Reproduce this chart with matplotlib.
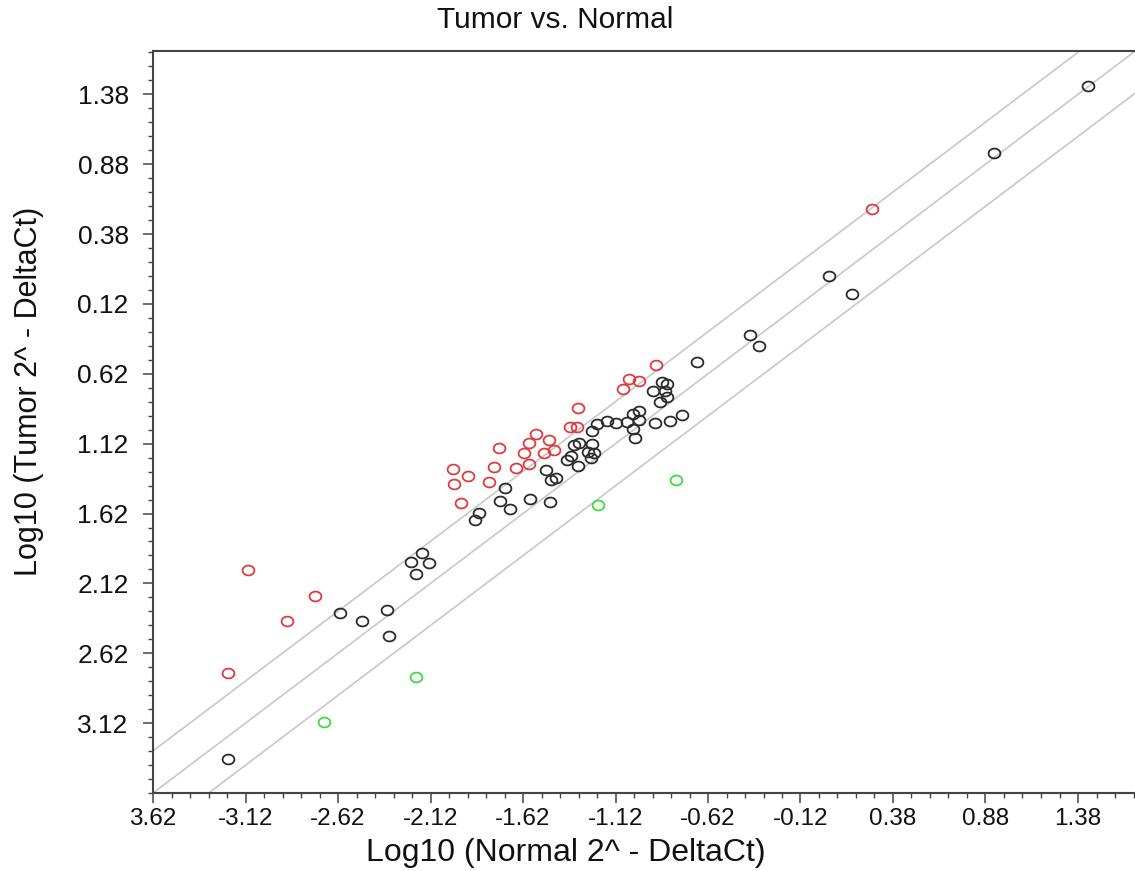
import numpy as np
import matplotlib
matplotlib.use('Agg')
import matplotlib.pyplot as plt
from matplotlib.path import Path
from matplotlib.ticker import FixedLocator

plt.rcParams['font.family'] = ['Liberation Sans', 'DejaVu Sans']

# Log10 2^-DeltaCt, normal (x) vs tumor (y)
red_x = [-3.216, -3.105, -2.897, -2.744, -1.997, -1.993, -1.919, -1.955, -1.802,
         -1.775, -1.750, -1.658, -1.616, -1.589, -1.550, -1.589, -1.479, -1.506,
         -1.455, -1.366, -1.328, -1.323, -1.078, -1.045, -0.993, -0.901, 0.268]
red_y = [-2.761, -2.027, -2.386, -2.208, -1.301, -1.408, -1.354, -1.544, -1.396,
         -1.284, -1.149, -1.294, -1.184, -1.113, -1.054, -1.268, -1.094, -1.184,
         -1.164, -1.000, -1.000, -0.863, -0.732, -0.654, -0.675, -0.558, 0.561]

green_x = [-2.696, -2.198, -1.213, -0.793]
green_y = [-3.113, -2.791, -1.558, -1.379]

black_x = [-3.215, -2.609, -2.492, -2.357, -2.343, -2.224, -2.164, -2.128, -2.198,
           -1.879, -1.859, -1.716, -1.743, -1.690, -1.582, -1.474, -1.497, -1.468,
           -1.442, -1.384, -1.363, -1.321, -1.344, -1.315, -1.247, -1.266, -1.236,
           -1.255, -1.247, -1.218, -1.168, -1.117, -1.058, -1.024, -0.991, -0.991,
           -1.027, -1.017, -0.906, -0.825, -0.763, -0.917, -0.869, -0.840, -0.852,
           -0.840, -0.877, -0.681, -0.393, -0.344, 0.036, 0.160, 0.926, 1.432]
black_y = [-3.379, -2.329, -2.386, -2.311, -2.494, -1.968, -1.904, -1.975, -2.051,
           -1.663, -1.618, -1.438, -1.527, -1.586, -1.518, -1.534, -1.311, -1.381,
           -1.369, -1.238, -1.209, -1.277, -1.127, -1.118, -1.122, -1.181, -1.188,
           -1.222, -1.027, -0.977, -0.961, -0.972, -0.963, -0.908, -0.889, -0.951,
           -1.015, -1.077, -0.974, -0.956, -0.913, -0.741, -0.681, -0.695, -0.744,
           -0.784, -0.820, -0.534, -0.344, -0.422, 0.078, -0.051, 0.959, 1.442]

# fold-change boundaries (log10 2)
line_offsets = [np.log10(2), 0.0, -np.log10(2)]

x_ticks = [-3.62, -3.12, -2.62, -2.12, -1.62, -1.12, -0.62, -0.12, 0.38, 0.88, 1.38]
x_labels = ['3.62', '-3.12', '-2.62', '-2.12', '-1.62', '-1.12', '-0.62', '-0.12',
            '0.38', '0.88', '1.38']
y_ticks = [1.38, 0.88, 0.38, -0.12, -0.62, -1.12, -1.62, -2.12, -2.62, -3.12]
y_labels = ['1.38', '0.88', '0.38', '0.12', '0.62', '1.12', '1.62', '2.12', '2.62', '3.12']

lo, hi = -3.62, 1.69

# slightly wide open ellipse as the marker
t = np.linspace(0, 2 * np.pi, 60)
ellipse = Path(np.column_stack([1.2 * np.cos(t), np.sin(t)]))

W, H = 1135, 871
fig = plt.figure(figsize=(W / 100, H / 100), dpi=100)
ax = fig.add_axes([153 / W, (H - 793) / H, 990 / W, 742 / H])

xx = np.array([lo - 1, hi + 1])
for off in line_offsets:
    ax.plot(xx, xx + off, color='#c8c8c8', lw=1.2, zorder=1)

ms = 8.5
ax.plot(black_x, black_y, ls='none', marker=ellipse, ms=ms, mfc='none',
        mec='#2b2b2b', mew=1.3, zorder=3)
ax.plot(red_x, red_y, ls='none', marker=ellipse, ms=ms, mfc='none',
        mec='#e03a3e', mew=1.3, zorder=3)
ax.plot(green_x, green_y, ls='none', marker=ellipse, ms=ms, mfc='none',
        mec='#3ddc3d', mew=1.3, zorder=3)

ax.set_xlim(lo, lo + 990 / 185)
ax.set_ylim(lo, hi)

ax.xaxis.set_major_locator(FixedLocator(x_ticks))
ax.set_xticklabels(x_labels)
ax.yaxis.set_major_locator(FixedLocator(y_ticks))
ax.set_yticklabels(y_labels)
minor = np.round(np.arange(lo, 1.7, 0.1), 2)
ax.xaxis.set_minor_locator(FixedLocator(minor))
ax.yaxis.set_minor_locator(FixedLocator(minor))

ax.tick_params(which='major', length=7.5, width=1.1, color='#444444',
               labelcolor='#111111')
ax.tick_params(which='minor', length=3.5, width=1.0, color='#444444')
ax.tick_params(axis='x', which='major', pad=3, labelsize=17.5)
ax.tick_params(axis='y', which='major', pad=10, labelsize=19)

for s in ['left', 'bottom', 'top']:
    ax.spines[s].set_color('#444444')
    ax.spines[s].set_linewidth(1.5)
ax.spines['right'].set_visible(False)

fig.text(555 / W, 1 - 20 / H, 'Tumor vs. Normal', ha='center', va='center',
         fontsize=21.5, color='#111111')
fig.text(566 / W, 1 - 853 / H, 'Log10 (Normal 2^ - DeltaCt)', ha='center',
         va='center', fontsize=23, color='#111111')
fig.text(29 / W, 1 - 391 / H, 'Log10 (Tumor 2^ - DeltaCt)', ha='center',
         va='center', fontsize=22, rotation=90, color='#111111')

fig.savefig('out.png', dpi=100)
